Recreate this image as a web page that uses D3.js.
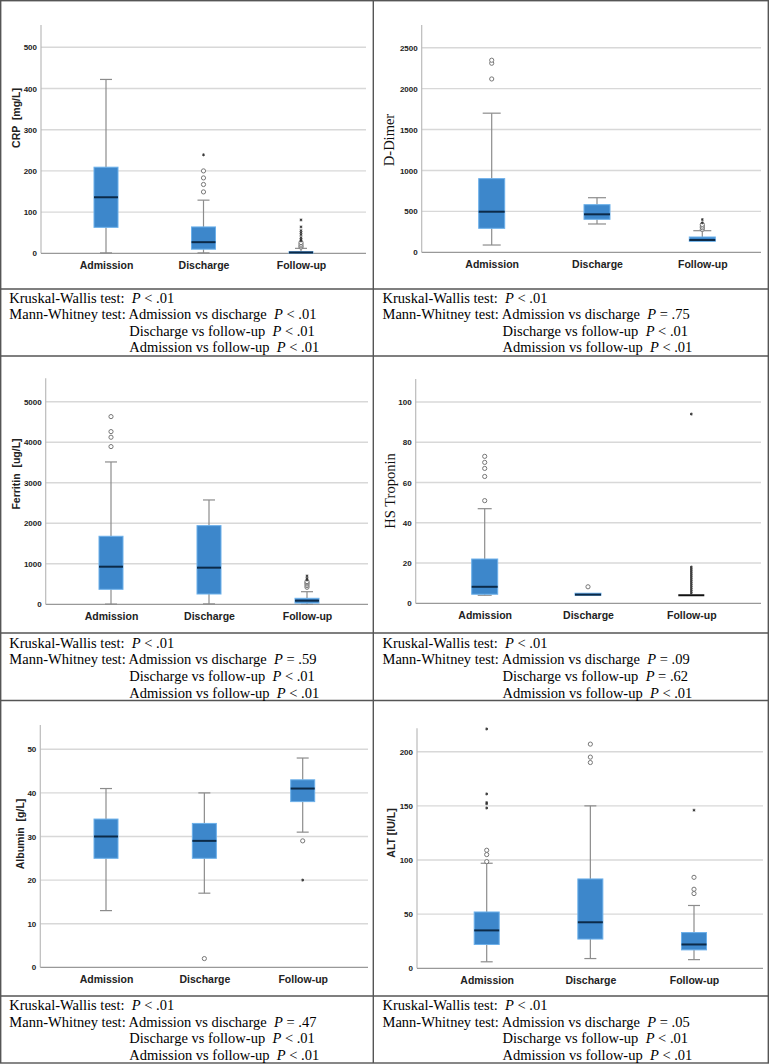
<!DOCTYPE html>
<html>
<head>
<meta charset="utf-8">
<script src="https://cdn.jsdelivr.net/npm/d3@7/dist/d3.min.js"></script>
<style>
html,body{margin:0;padding:0;background:#fff;}
svg{display:block;}
text{white-space:pre;}
</style>
</head>
<body>
<svg id="chart" width="769" height="1064"></svg>
<script>
// ---------- DATA ----------
const categories = ["Admission", "Discharge", "Follow-up"];

// box stats per category: [lower whisker, Q1, median, Q3, upper whisker]
const crpBox = [[1, 63, 136, 209, 422], [1, 10, 27, 64, 129], [0, 0.5, 2, 4, 12]];
const crpCircles = [[], [149, 167, 183, 200], [15, 18, 22, 26]];
const crpStars = [[], [239], [30, 34, 38, 45, 50, 55, 64, 81]];
const crpTicks = [0, 100, 200, 300, 400, 500];

const ddimerBox = [[89, 293, 496, 900, 1700], [346, 403, 464, 582, 667], [134, 134, 150, 187, 264]];
const ddimerCircles = [[2118, 2310, 2347], [], [280, 300, 320, 340]];
const ddimerStars = [[], [], [360, 400]];
const ddimerTicks = [0, 500, 1000, 1500, 2000, 2500];

const ferritinBox = [[5, 370, 928, 1679, 3513], [10, 254, 904, 1941, 2575], [0, 30, 90, 148, 311]];
const ferritinCircles = [[3892, 4123, 4262, 4632], [], [420, 460, 500, 530, 560]];
const ferritinStars = [[], [], [600, 640, 700]];
const ferritinTicks = [0, 1000, 2000, 3000, 4000, 5000];

const troponinBox = [[4, 4.5, 8.2, 22, 47], [4, 4, 4.3, 5, 5], [4, 4, 4, 4, 4]];
const troponinCircles = [[51, 63, 67, 70, 73], [8.2], []];
const troponinStars = [[], [], [5, 6, 7, 8, 9, 10, 11, 12, 13, 14, 15, 16, 17, 18, 94]];
const troponinTicks = [0, 20, 40, 60, 80, 100];

const albuminBox = [[13, 25, 30, 34, 41], [17, 25, 29, 33, 40], [31, 38, 41, 43, 48]];
const albuminCircles = [[], [2], [29]];
const albuminStars = [[], [], [20]];
const albuminTicks = [0, 10, 20, 30, 40, 50];

const altBox = [[6, 22, 35, 52, 97], [9, 27, 42.5, 82.5, 150], [8, 17, 22, 33, 58]];
const altCircles = [[98.5, 105, 109], [190, 195, 207], [69, 73, 84]];
const altStars = [[148, 152, 153, 161, 221], [], [146]];
const altTicks = [0, 50, 100, 150, 200];

const titles = ["CRP  [mg/L]", "D-Dimer", "Ferritin  [ug/L]", "HS Troponin", "Albumin  [g/L]", "ALT [IU/L]"];
const kruskalP = ["< .01", "< .01", "< .01", "< .01", "< .01", "< .01"];
const mwLabels = ["Admission vs discharge", "Discharge vs follow-up", "Admission vs follow-up"];
const mwP = [
  ["< .01", "< .01", "< .01"],
  ["= .75", "< .01", "< .01"],
  ["= .59", "< .01", "< .01"],
  ["= .09", "= .62", "< .01"],
  ["= .47", "< .01", "< .01"],
  ["= .05", "< .01", "< .01"]
];

// ---------- LAYOUT ----------
const panels = [
  {box: crpBox, circles: crpCircles, stars: crpStars, ticks: crpTicks, tickTop: 500,
   ax: 41, gridEnd: 366, zeroY: 253.3, topY: 47.3, axisTop: 25, c0: 106, c2: 301, bw: 24, cap: 12,
   titleX: 16, titleY: 118, serif: false,
   textX: 9.3, textBase: 302.5},
  {box: ddimerBox, circles: ddimerCircles, stars: ddimerStars, ticks: ddimerTicks, tickTop: 2500,
   ax: 421.7, gridEnd: 761, zeroY: 252.3, topY: 47.7, axisTop: 25, c0: 491.7, c2: 702.3, bw: 26, cap: 18,
   titleX: 389, titleY: 140, serif: true,
   textX: 382.5, textBase: 302.5},
  {box: ferritinBox, circles: ferritinCircles, stars: ferritinStars, ticks: ferritinTicks, tickTop: 5000,
   ax: 45.7, gridEnd: 368, zeroY: 604.3, topY: 401.7, axisTop: 378.3, c0: 111, c2: 307, bw: 24, cap: 12,
   titleX: 16, titleY: 474, serif: false,
   textX: 9.3, textBase: 647.7},
  {box: troponinBox, circles: troponinCircles, stars: troponinStars, ticks: troponinTicks, tickTop: 100,
   ax: 415.7, gridEnd: 761, zeroY: 603.3, topY: 402, axisTop: 379, c0: 484.7, c2: 691.3, bw: 26, cap: 14,
   titleX: 390, titleY: 491, serif: true,
   textX: 382.5, textBase: 647.7},
  {box: albuminBox, circles: albuminCircles, stars: albuminStars, ticks: albuminTicks, tickTop: 50,
   ax: 40.3, gridEnd: 368, zeroY: 967.3, topY: 749.3, axisTop: 725, c0: 106, c2: 302.7, bw: 24, cap: 12,
   titleX: 20, titleY: 834, serif: false,
   textX: 9.3, textBase: 1010},
  {box: altBox, circles: altCircles, stars: altStars, ticks: altTicks, tickTop: 200,
   ax: 417, gridEnd: 763, zeroY: 968.3, topY: 751.7, axisTop: 728.3, c0: 486.7, c2: 694, bw: 25, cap: 12,
   titleX: 390.5, titleY: 833, serif: false,
   textX: 382.5, textBase: 1010}
];

const svg = d3.select("#chart");
const sansNarrow = "'Liberation Sans Narrow','Arial Narrow','Liberation Sans',Arial,sans-serif";
const serif = "'Liberation Serif','Times New Roman',serif";

// table borders
const borderColor = "#555";
const g0 = svg.append("g").attr("stroke", borderColor).attr("stroke-width", 1.4).attr("fill", "none");
g0.append("rect").attr("x", 0.7).attr("y", 0.7).attr("width", 767.6).attr("height", 1062.3);
g0.append("line").attr("x1", 373.3).attr("x2", 373.3).attr("y1", 0).attr("y2", 1063);
[289, 356, 633, 700.5, 996].forEach(y => g0.append("line").attr("x1", 0).attr("x2", 769).attr("y1", y).attr("y2", y));

panels.forEach((p, i) => {
  const g = svg.append("g");
  const y = d3.scaleLinear().domain([0, p.tickTop]).range([p.zeroY, p.topY]);
  const x = d3.scalePoint().domain(categories).range([p.c0, p.c2]);

  // grid lines
  g.append("g").selectAll("line").data(p.ticks.filter(t => t > 0)).join("line")
    .attr("x1", p.ax).attr("x2", p.gridEnd)
    .attr("y1", d => y(d)).attr("y2", d => y(d))
    .attr("stroke", "#d8d8d8").attr("stroke-width", 1.4);

  // y axis using d3.axisLeft
  const axis = d3.axisLeft(y).tickValues(p.ticks).tickSize(0).tickPadding(4).tickFormat(d3.format("d"));
  const ag = g.append("g").attr("transform", `translate(${p.ax},0)`).call(axis);
  ag.select(".domain").remove();
  ag.selectAll("text").attr("font-family", sansNarrow).attr("font-weight", "bold")
    .attr("font-size", 8).attr("fill", "#222");
  g.append("line").attr("x1", p.ax).attr("x2", p.ax).attr("y1", p.axisTop).attr("y2", p.zeroY)
    .attr("stroke", "#bbb").attr("stroke-width", 1.2);
  g.append("line").attr("x1", p.ax).attr("x2", p.gridEnd).attr("y1", p.zeroY).attr("y2", p.zeroY)
    .attr("stroke", "#999").attr("stroke-width", 1.2);

  // x axis labels
  const xa = d3.axisBottom(x).tickSize(0).tickPadding(8);
  const xg = g.append("g").attr("transform", `translate(0,${p.zeroY})`).call(xa);
  xg.select(".domain").remove();
  xg.selectAll("text").attr("font-family", sansNarrow).attr("font-weight", "bold")
    .attr("font-size", 10.5).attr("fill", "#222");

  // boxes
  categories.forEach((c, k) => {
    const [lo, q1, med, q3, hi] = p.box[k];
    const cx = x(c);
    const bg = g.append("g");
    const wc = "#8c8c8c";
    if (hi > q3) {
      bg.append("line").attr("x1", cx).attr("x2", cx).attr("y1", y(q3)).attr("y2", y(hi)).attr("stroke", wc).attr("stroke-width", 1.2);
      bg.append("line").attr("x1", cx - p.cap / 2).attr("x2", cx + p.cap / 2).attr("y1", y(hi)).attr("y2", y(hi)).attr("stroke", wc).attr("stroke-width", 1.2);
    }
    if (lo < q1) {
      bg.append("line").attr("x1", cx).attr("x2", cx).attr("y1", y(q1)).attr("y2", y(lo)).attr("stroke", wc).attr("stroke-width", 1.2);
      bg.append("line").attr("x1", cx - p.cap / 2).attr("x2", cx + p.cap / 2).attr("y1", y(lo)).attr("y2", y(lo)).attr("stroke", wc).attr("stroke-width", 1.2);
    }
    const h = Math.max(y(q1) - y(q3), 0);
    if (h > 0) {
      bg.append("rect").attr("x", cx - p.bw / 2).attr("y", y(q3)).attr("width", p.bw).attr("height", h)
        .attr("fill", "#3d87cb").attr("stroke", "#6cb0ea").attr("stroke-width", 1);
    }
    bg.append("line").attr("x1", cx - p.bw / 2).attr("x2", cx + p.bw / 2).attr("y1", y(med)).attr("y2", y(med))
      .attr("stroke", h > 0 ? "#0c2a48" : "#111").attr("stroke-width", 2);
    // outliers
    bg.selectAll("circle").data(p.circles[k]).join("circle")
      .attr("cx", cx).attr("cy", d => y(d)).attr("r", 2.1)
      .attr("fill", "#fff").attr("stroke", "#777").attr("stroke-width", 1);
    bg.selectAll("path.star").data(p.stars[k]).join("path").attr("class", "star")
      .attr("transform", d => `translate(${cx},${y(d)})`)
      .attr("d", d3.symbol(d3.symbolAsterisk, 6))
      .attr("stroke", "#333").attr("stroke-width", 0.9).attr("fill", "none");
  });

  // y title
  const t = g.append("text")
    .attr("transform", `translate(${p.titleX},${p.titleY}) rotate(-90)`)
    .attr("text-anchor", "middle").attr("dominant-baseline", "central")
    .text(titles[i]);
  if (p.serif) {
    t.attr("font-family", serif).attr("font-size", 14.5).attr("fill", "#111");
  } else {
    t.attr("font-family", "'Liberation Sans',Arial,sans-serif").attr("font-weight", "bold")
      .attr("font-size", 10.5).attr("fill", "#222");
  }

  // statistics text
  const tg = g.append("g").attr("font-family", serif).attr("font-size", 14.5).attr("fill", "#000");
  const l1 = tg.append("text").attr("x", p.textX).attr("y", p.textBase);
  l1.append("tspan").text("Kruskal-Wallis test:  ");
  l1.append("tspan").attr("font-style", "italic").text("P");
  l1.append("tspan").text(" " + kruskalP[i]);

  const l2 = tg.append("text").attr("x", p.textX).attr("y", p.textBase + 16.6);
  const pre = l2.append("tspan").text("Mann-Whitney test: ");
  const indent = p.textX + pre.node().getComputedTextLength();
  l2.append("tspan").text(mwLabels[0] + "  ");
  l2.append("tspan").attr("font-style", "italic").text("P");
  l2.append("tspan").text(" " + mwP[i][0]);
  for (let j = 1; j < 3; j++) {
    const lj = tg.append("text").attr("x", indent).attr("y", p.textBase + 16.6 * (j + 1));
    lj.append("tspan").text(mwLabels[j] + "  ");
    lj.append("tspan").attr("font-style", "italic").text("P");
    lj.append("tspan").text(" " + mwP[i][j]);
  }
});
</script>
</body>
</html>
